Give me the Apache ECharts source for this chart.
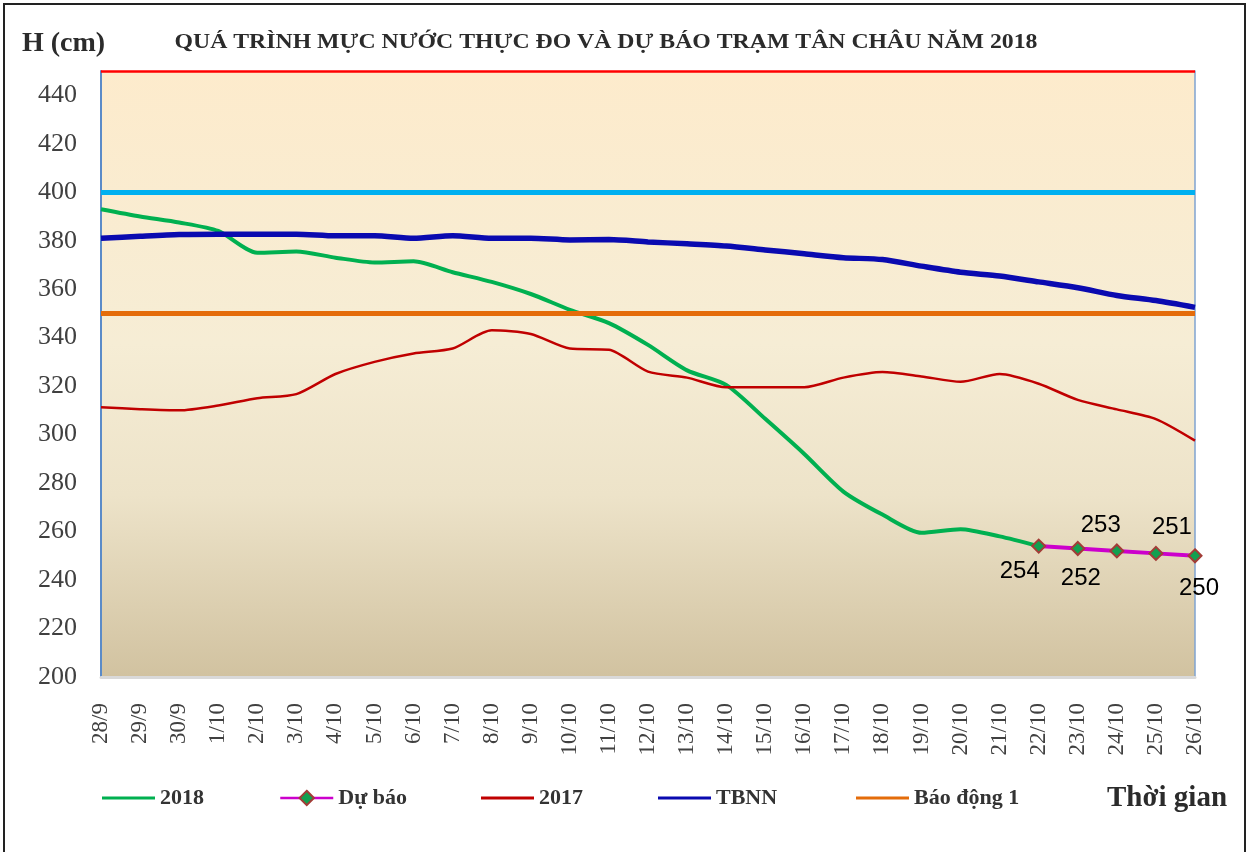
<!DOCTYPE html>
<html><head><meta charset="utf-8">
<script src="https://cdn.jsdelivr.net/npm/echarts@6/dist/echarts.min.js"></script>
<style>html,body{margin:0;padding:0;background:#fff}#c{width:1253px;height:852px}</style>
</head><body><div id="c"></div>
<script>
const categories = ['28/9','29/9','30/9','1/10','2/10','3/10','4/10','5/10','6/10','7/10','8/10','9/10','10/10','11/10','12/10','13/10','14/10','15/10','16/10','17/10','18/10','19/10','20/10','21/10','22/10','23/10','24/10','25/10','26/10'];
const values2018 = [393,390,387.5,384,375,375.5,373,371,371.5,367,363,358,351.5,346,337,326.5,320.5,306.5,292,276.5,267,259.5,261,258,254];
const forecastDates = ['22/10','23/10','24/10','25/10','26/10'];
const forecastValues = [254,253,252,251,250];
const values2017 = [311.3,310.5,310,312,315,316.7,325,330,333.5,335.5,343,341.5,335.5,335,326,323.5,319.5,319.5,319.5,323.5,325.8,324,321.8,325,321,314.3,310.4,306.4,297.5];
const valuesTBNN = [381,381.8,382.5,382.7,382.7,382.7,382,382,381,382,381,381,380.3,380.5,379.5,378.7,377.8,376.2,374.6,373,372.2,369.5,367,365.4,363,360.6,357.4,355.3,352.5];
const alarmLevel1 = 350, alarmLevel2 = 400, alarmLevel3 = 450;
const yMin = 200, yMax = 450, yStep = 20;

// label placement (style only)
const forecastLabelOffsets = [[-19,25],[23,-23],[-36,27],[16,-26],[4,33]];

const forecastData = categories.map(c => {
  const k = forecastDates.indexOf(c);
  if (k < 0) return null;
  return { value: forecastValues[k], label: { offset: forecastLabelOffsets[k] } };
});

const serif = 'Liberation Serif';
const chart = echarts.init(document.getElementById('c'), null, {renderer:'canvas'});

const legendCommon = {
  top: 786, padding: 0, itemWidth: 53, itemHeight: 18, itemGap: 0,
  textStyle: {fontFamily: serif, fontWeight: 'bold', fontSize: 22, color: '#333', lineHeight: 24},
  lineStyle: {width: 2.5}, selectedMode: false
};
const legendLine = Object.assign({}, legendCommon, {icon: 'rect', itemHeight: 3});

function alarmSeries(name, level, color, width) {
  return {
    name, type: 'line', data: [], color,
    lineStyle: {color, width}, itemStyle: {color}, symbol: 'none',
    markLine: {
      silent: true, symbol: ['none','none'], label: {show:false},
      lineStyle: {color, width, type: 'solid'},
      emphasis: {disabled: true},
      data: [{yAxis: level}]
    },
    z: 4
  };
}

chart.setOption({
  animation: false,
  backgroundColor: '#fff',
  grid: {
    left: 101, top: 71, width: 1094, height: 606, show: true, borderWidth: 0,
    backgroundColor: {type:'linear', x:0, y:0, x2:0, y2:1, colorStops:[
      {offset:0, color:'#FDEBCC'},{offset:0.45, color:'#F6EDD5'},{offset:0.7, color:'#EDE3C9'},{offset:1, color:'#D1C2A0'}]}
  },
  legend: [
    Object.assign({data:['2018'], left:102}, legendLine),
    Object.assign({data:['Dự báo'], left:279, top:784}, legendCommon),
    Object.assign({data:['2017'], left:481}, legendLine),
    Object.assign({data:['TBNN'], left:658}, legendLine),
    Object.assign({data:['Báo động 1'], left:856}, legendLine)
  ],
  xAxis: {
    type: 'category', data: categories, boundaryGap: false,
    axisLine: {lineStyle: {color: '#D9D9D9', width: 3}},
    axisTick: {show: false},
    axisLabel: {interval: 0, rotate: 90, margin: 26, fontFamily: serif, fontSize: 23, color: '#404040'},
    splitLine: {show: false}
  },
  yAxis: [
    {
      type: 'value', min: yMin, max: yMax, interval: yStep,
      axisLine: {show: true, lineStyle: {color: '#5B8BC8', width: 2}},
      axisTick: {show: false},
      axisLabel: {showMaxLabel: false, margin: 24, fontFamily: serif, fontSize: 26, color: '#404040'},
      splitLine: {show: false}
    },
    {
      type: 'value', min: yMin, max: yMax, interval: yStep, position: 'right',
      axisLine: {show: true, lineStyle: {color: '#7FA3D0', width: 1.5}},
      axisTick: {show: false}, axisLabel: {show: false}, splitLine: {show: false}
    }
  ],
  series: [
    {name:'2018', type:'line', data: values2018, smooth: 0.25, symbol:'none', color:'#00B050',
     lineStyle:{color:'#00B050', width:4}, z:3},
    {name:'Dự báo', type:'line', data: forecastData, symbol:'diamond', symbolSize:13, color:'#CC00CC',
     lineStyle:{color:'#CC00CC', width:4},
     itemStyle:{color:'#12A050', borderColor:'#A33C37', borderWidth:2},
     label:{show:true, position:'inside', fontFamily:'Liberation Sans', fontSize:24, color:'#000'},
     z:5},
    {name:'2017', type:'line', data: values2017, smooth: 0.25, symbol:'none', color:'#C00000',
     lineStyle:{color:'#C00000', width:2.5}, z:3},
    {name:'TBNN', type:'line', data: valuesTBNN, smooth: 0.25, symbol:'none', color:'#0A0AB0',
     lineStyle:{color:'#0A0AB0', width:5.5}, z:3},
    alarmSeries('Báo động 1', alarmLevel1, '#E46C0A', 5),
    alarmSeries('Báo động 2', alarmLevel2, '#00B0F0', 5),
    alarmSeries('Báo động 3', alarmLevel3, '#FF0000', 2.5)
  ],
  graphic: [
    {type:'rect', shape:{x:4, y:4, width:1241, height:870}, style:{fill:'none', stroke:'#222', lineWidth:2}, silent:true},
    {type:'text', x:606, y:42, scaleX:1.08, style:{text:'QUÁ TRÌNH MỰC NƯỚC THỰC ĐO VÀ DỰ BÁO TRẠM TÂN CHÂU NĂM 2018', font:'bold 22px "Liberation Serif"', fill:'#2b2b2b', textAlign:'center', textVerticalAlign:'middle'}},
    {type:'text', x:22, y:44, style:{text:'H (cm)', font:'bold 28px "Liberation Serif"', fill:'#2b2b2b', textAlign:'left', textVerticalAlign:'middle'}},
    {type:'text', x:1107, y:799, style:{text:'Thời gian', font:'bold 29px "Liberation Serif"', fill:'#2b2b2b', textAlign:'left', textVerticalAlign:'middle'}}
  ]
});
</script></body></html>
